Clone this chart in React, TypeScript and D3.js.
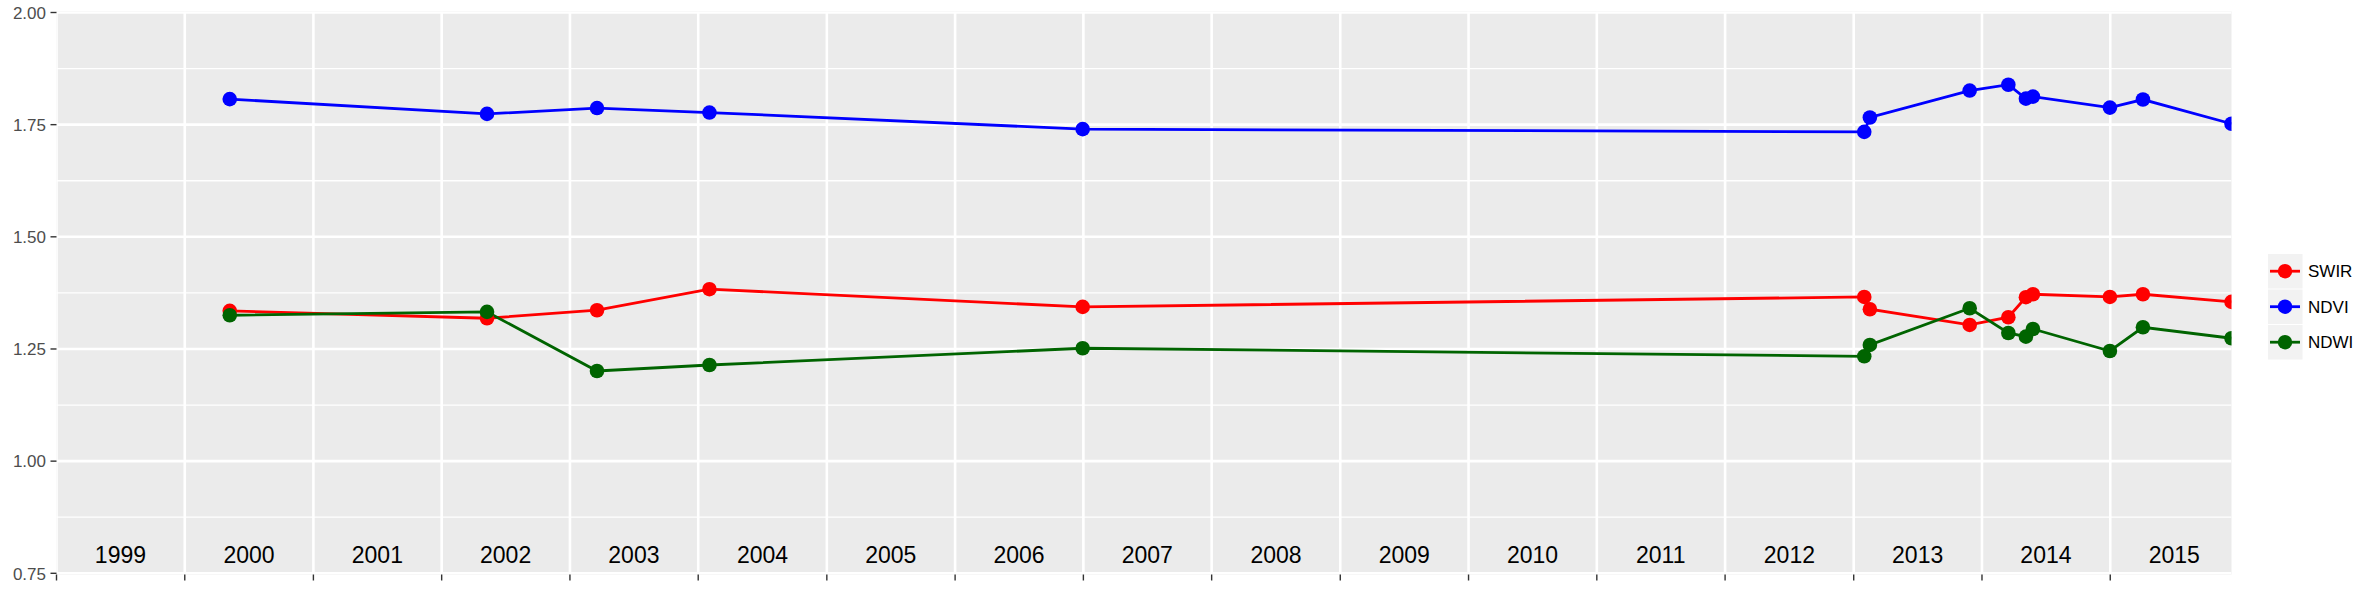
import React, { useEffect } from "react";
import * as d3 from "d3";

const dates = [
  "2000-05-08", "2002-05-10", "2003-03-19", "2004-02-02", "2006-12-30",
  "2013-01-31", "2013-02-16", "2013-11-27", "2014-03-17", "2014-05-06",
  "2014-05-26", "2014-12-31", "2015-04-04", "2015-12-12",
];
const swir = [1.335, 1.3185, 1.3364, 1.3833, 1.3438, 1.366, 1.3386, 1.3036, 1.3208, 1.3654, 1.372, 1.366, 1.372, 1.355];
const ndvi = [1.807, 1.774, 1.787, 1.777, 1.740, 1.734, 1.766, 1.826, 1.839, 1.808, 1.8125, 1.788, 1.806, 1.752];
const ndwi = [1.3252, 1.3326, 1.2009, 1.2143, 1.2516, 1.2337, 1.259, 1.3408, 1.2857, 1.2775, 1.2946, 1.2455, 1.2984, 1.2739];

const seriesNames = ["SWIR", "NDVI", "NDWI"];
const seriesColors = ["#FF0000", "#0000FF", "#006400"];
const seriesValues = [swir, ndvi, ndwi];

const yTicks = [0.75, 1.0, 1.25, 1.5, 1.75, 2.0];
const yMinor = [0.875, 1.125, 1.375, 1.625, 1.875];
const yearLabels = ["1999", "2000", "2001", "2002", "2003", "2004", "2005", "2006", "2007", "2008", "2009", "2010", "2011", "2012", "2013", "2014", "2015"];

const W = 2378;
const H = 593;
const PL = 56.5;
const PR = 2231.5;
const PT = 11.5;
const PB = 574.5;

export default function App() {
  useEffect(() => {
    document.body.style.margin = "0";
    document.body.style.overflow = "hidden";
  }, []);

  const parse = d3.timeParse("%Y-%m-%d");
  const xDates = dates.map((d) => parse(d) as Date);
  const x = d3
    .scaleTime()
    .domain([new Date(1999, 0, 1), xDates[xDates.length - 1]])
    .range([PL, PR]);
  const y = d3.scaleLinear().domain([0.75, 2.0]).range([573.3, 12.5]);

  const yearBreaks = yearLabels.map((yr) => new Date(+yr, 0, 1));
  const yearMids = yearLabels.map((yr) => new Date(+yr, 6, 2));

  const line = d3
    .line<number>()
    .x((_, i) => x(xDates[i]))
    .y((v) => y(v));

  const font = "'Liberation Sans', Arial, sans-serif";

  return (
    <svg width={W} height={H} style={{ position: "absolute", left: 0, top: 0, display: "block", background: "#fff" }}>
      <defs>
        <clipPath id="panel">
          <rect x={PL} y={PT} width={PR - PL} height={PB - PT} />
        </clipPath>
      </defs>
      <rect x={PL} y={PT} width={PR - PL} height={PB - PT} fill="#EBEBEB" />
      <g clipPath="url(#panel)">
        {yMinor.map((v) => (
          <line key={"mi" + v} x1={PL} x2={PR} y1={y(v)} y2={y(v)} stroke="#fff" strokeWidth={1.3} />
        ))}
        {yTicks.map((v) => (
          <line key={"ma" + v} x1={PL} x2={PR} y1={y(v)} y2={y(v)} stroke="#fff" strokeWidth={2.6} />
        ))}
        {yearBreaks.map((d, i) => (
          <line key={"vx" + i} x1={x(d)} x2={x(d)} y1={PT} y2={PB} stroke="#fff" strokeWidth={2.6} />
        ))}
        {yearLabels.map((yr, i) => (
          <text key={"yl" + yr} x={x(yearMids[i])} y={563.3} textAnchor="middle" fontFamily={font} fontSize={23} fill="#000">
            {yr}
          </text>
        ))}
        {seriesValues.map((vals, s) => (
          <path key={"ln" + s} d={line(vals) || ""} fill="none" stroke={seriesColors[s]} strokeWidth={2.8} />
        ))}
        {seriesValues.map((vals, s) => (
          <g key={"pt" + s}>
            {vals.map((v, i) => (
              <circle key={i} cx={x(xDates[i])} cy={y(v)} r={7.3} fill={seriesColors[s]} />
            ))}
          </g>
        ))}
      </g>
      {/* y axis */}
      {yTicks.map((v) => (
        <g key={"yt" + v}>
          <line x1={50.5} x2={PL} y1={y(v)} y2={y(v)} stroke="#333333" strokeWidth={1.4} />
          <text x={46} y={y(v) + 6.3} textAnchor="end" fontFamily={font} fontSize={17} fill="#4D4D4D">
            {v.toFixed(2)}
          </text>
        </g>
      ))}
      {/* x axis ticks */}
      {yearBreaks.map((d, i) => (
        <line key={"xt" + i} x1={x(d)} x2={x(d)} y1={PB} y2={580.5} stroke="#333333" strokeWidth={1.4} />
      ))}
      {/* legend */}
      {seriesNames.map((name, i) => {
        const top = 254 + i * 35.5;
        const cy = top + 17.2;
        return (
          <g key={"lg" + name}>
            <rect x={2268} y={top} width={34.5} height={34.5} fill="#F2F2F2" />
            <line x1={2270} x2={2300} y1={cy} y2={cy} stroke={seriesColors[i]} strokeWidth={2.8} />
            <circle cx={2285} cy={cy} r={7.2} fill={seriesColors[i]} />
            <text x={2308} y={cy + 6.1} fontFamily={font} fontSize={17} fill="#000">
              {name}
            </text>
          </g>
        );
      })}
    </svg>
  );
}
